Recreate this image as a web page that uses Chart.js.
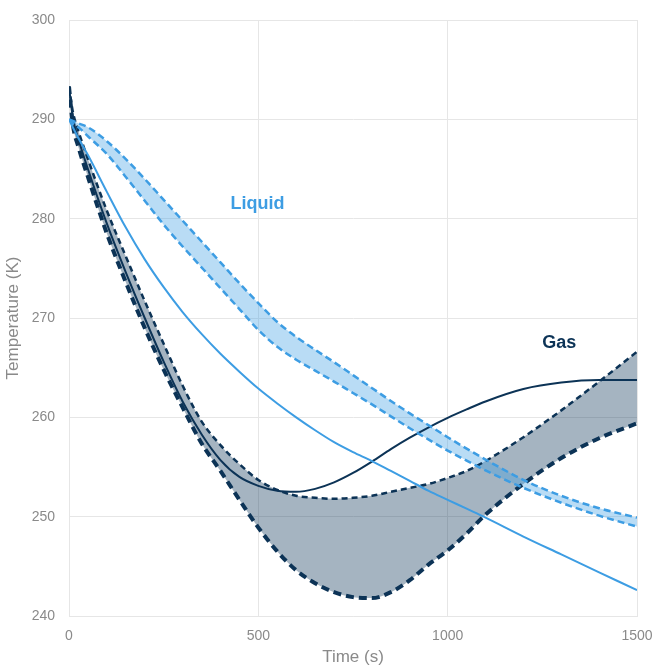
<!DOCTYPE html>
<html>
<head>
<meta charset="utf-8">
<script src="https://cdn.jsdelivr.net/npm/chart.js@4.4.1/dist/chart.umd.min.js"></script>
<style>
  html, body { margin: 0; padding: 0; background: #ffffff; }
  #wrap { width: 654px; height: 668px; }
</style>
</head>
<body>
<div id="wrap"><canvas id="c" width="654" height="668"></canvas></div>
<script>
// ---- Data ----
const times = [0, 10, 25, 50, 100, 150, 200, 250, 300, 350, 400, 450, 500, 550, 600, 650, 700, 750, 800, 850, 900, 950, 1000, 1050, 1100, 1200, 1300, 1400, 1500];

const liquidUpper = [290, 289.85, 289.6, 289.2, 287.8, 286.0, 284.0, 281.9, 279.8, 277.7, 275.6, 273.5, 271.5, 269.6, 268.1, 266.8, 265.55, 264.25, 262.95, 261.65, 260.4, 259.2, 258.0, 256.85, 255.75, 253.7, 252.1, 250.85, 249.9];
const liquidLower = [290, 289.6, 289.2, 288.3, 286.5, 284.2, 281.8, 279.4, 277.2, 275.1, 273.0, 270.9, 268.8, 267.1, 265.8, 264.7, 263.6, 262.45, 261.3, 260.1, 258.9, 257.75, 256.65, 255.65, 254.65, 252.9, 251.4, 250.1, 249.0];
const liquidMain  = [290, 289.2, 288.1, 286.4, 282.7, 279.1, 275.9, 273.1, 270.6, 268.4, 266.4, 264.6, 262.9, 261.4, 260.0, 258.7, 257.5, 256.5, 255.6, 254.6, 253.6, 252.6, 251.7, 250.8, 249.9, 248.0, 246.2, 244.4, 242.6];

const gasUpper = [293.3, 290.8, 288.8, 286.0, 280.8, 276.2, 271.7, 267.4, 263.2, 259.6, 257.2, 255.3, 253.7, 252.7, 252.1, 251.9, 251.8, 251.9, 252.1, 252.5, 252.9, 253.3, 253.9, 254.6, 255.6, 258.0, 260.7, 263.6, 266.6];
const gasLower = [293.3, 289.5, 287.2, 284.2, 278.5, 273.6, 269.0, 264.8, 261.0, 257.4, 254.6, 251.7, 248.9, 246.5, 244.6, 243.3, 242.4, 241.9, 241.8, 242.4, 243.6, 245.2, 246.6, 248.3, 250.2, 253.3, 255.9, 257.9, 259.4];
const gasMain  = [293.3, 290.2, 288.0, 285.0, 279.5, 274.6, 270.0, 265.6, 261.6, 258.3, 255.7, 254.0, 253.1, 252.6, 252.5, 252.8, 253.45, 254.4, 255.55, 256.8, 257.95, 259.0, 259.95, 260.8, 261.6, 262.85, 263.5, 263.75, 263.75];

const xTicks = [0, 500, 1000, 1500];
const yTicks = [240, 250, 260, 270, 280, 290, 300];

const seriesLabels = ['Liquid', 'Gas'];
const seriesLabelTime = [498, 1295];
const seriesLabelTemp = [281.5, 267.5];

// ---- Styles ----
const LIGHT = '#3d9de3';
const DARK = '#0c3356';
const LIGHT_FILL = 'rgba(61,157,227,0.36)';
const DARK_FILL = 'rgba(12,51,86,0.37)';

function pts(arr) { return times.map((t, i) => ({ x: t, y: arr[i] })); }

const base = { pointRadius: 0, pointHoverRadius: 0, cubicInterpolationMode: 'monotone', fill: false };

const datasets = [
  Object.assign({}, base, { label: 'Liquid upper', data: pts(liquidUpper), borderColor: LIGHT, borderWidth: 2.5, borderDash: [7, 4] }),
  Object.assign({}, base, { label: 'Liquid lower', data: pts(liquidLower), borderColor: LIGHT, borderWidth: 2.5, borderDash: [7, 4], fill: '-1', backgroundColor: LIGHT_FILL }),
  Object.assign({}, base, { label: 'Liquid', data: pts(liquidMain), borderColor: LIGHT, borderWidth: 2 }),
  Object.assign({}, base, { label: 'Gas upper', data: pts(gasUpper), borderColor: DARK, borderWidth: 2.5, borderDash: [6, 4] }),
  Object.assign({}, base, { label: 'Gas lower', data: pts(gasLower), borderColor: DARK, borderWidth: 4, borderDash: [8, 5], fill: '-1', backgroundColor: DARK_FILL }),
  Object.assign({}, base, { label: 'Gas', data: pts(gasMain), borderColor: DARK, borderWidth: 2 })
];

const labelPlugin = {
  id: 'seriesLabels',
  afterDatasetsDraw(chart) {
    const { ctx, scales: { x, y } } = chart;
    const colors = [LIGHT, DARK];
    ctx.save();
    ctx.font = 'bold 18px "Liberation Sans", Arial, sans-serif';
    ctx.textAlign = 'center';
    ctx.textBaseline = 'middle';
    seriesLabels.forEach((txt, i) => {
      ctx.fillStyle = colors[i];
      ctx.fillText(txt, x.getPixelForValue(seriesLabelTime[i]), y.getPixelForValue(seriesLabelTemp[i]));
    });
    ctx.restore();
  }
};

const GRID = '#e6e6e6';
const TEXT = '#8a8a8a';
const FONT = '"Liberation Sans", Arial, sans-serif';

function zeroPad(scale) {
  scale.paddingLeft = 0; scale.paddingRight = 0; scale.paddingTop = 0; scale.paddingBottom = 0;
}

new Chart(document.getElementById('c'), {
  type: 'line',
  data: { datasets },
  options: {
    responsive: false,
    devicePixelRatio: 1,
    animation: false,
    events: [],
    layout: { padding: { left: 0, right: 17, top: 20, bottom: 0 } },
    plugins: {
      legend: { display: false },
      tooltip: { enabled: false },
      filler: { drawTime: 'beforeDatasetsDraw' }
    },
    scales: {
      x: {
        type: 'linear',
        min: 0, max: 1500,
        afterBuildTicks(scale) { scale.ticks = xTicks.map(v => ({ value: v })); },
        afterFit(scale) { scale.height = 52; zeroPad(scale); },
        grid: { color: GRID, lineWidth: 1, drawTicks: false },
        border: { color: GRID, width: 1 },
        ticks: { color: TEXT, font: { family: FONT, size: 14 }, padding: 12, maxRotation: 0, callback: v => String(v) },
        title: { display: true, text: 'Time (s)', color: TEXT, font: { family: FONT, size: 17 }, padding: { top: 0, bottom: 0 } }
      },
      y: {
        type: 'linear',
        min: 240, max: 300,
        afterBuildTicks(scale) { scale.ticks = yTicks.map(v => ({ value: v })); },
        afterFit(scale) { scale.width = 69; zeroPad(scale); },
        grid: { color: GRID, lineWidth: 1, drawTicks: false },
        border: { color: GRID, width: 1 },
        ticks: { color: TEXT, font: { family: FONT, size: 14 }, padding: 14, callback: v => String(v) },
        title: { display: true, text: 'Temperature (K)', color: TEXT, font: { family: FONT, size: 17 }, padding: { top: 3, bottom: 0 } }
      }
    }
  },
  plugins: [labelPlugin]
});
</script>
</body>
</html>
